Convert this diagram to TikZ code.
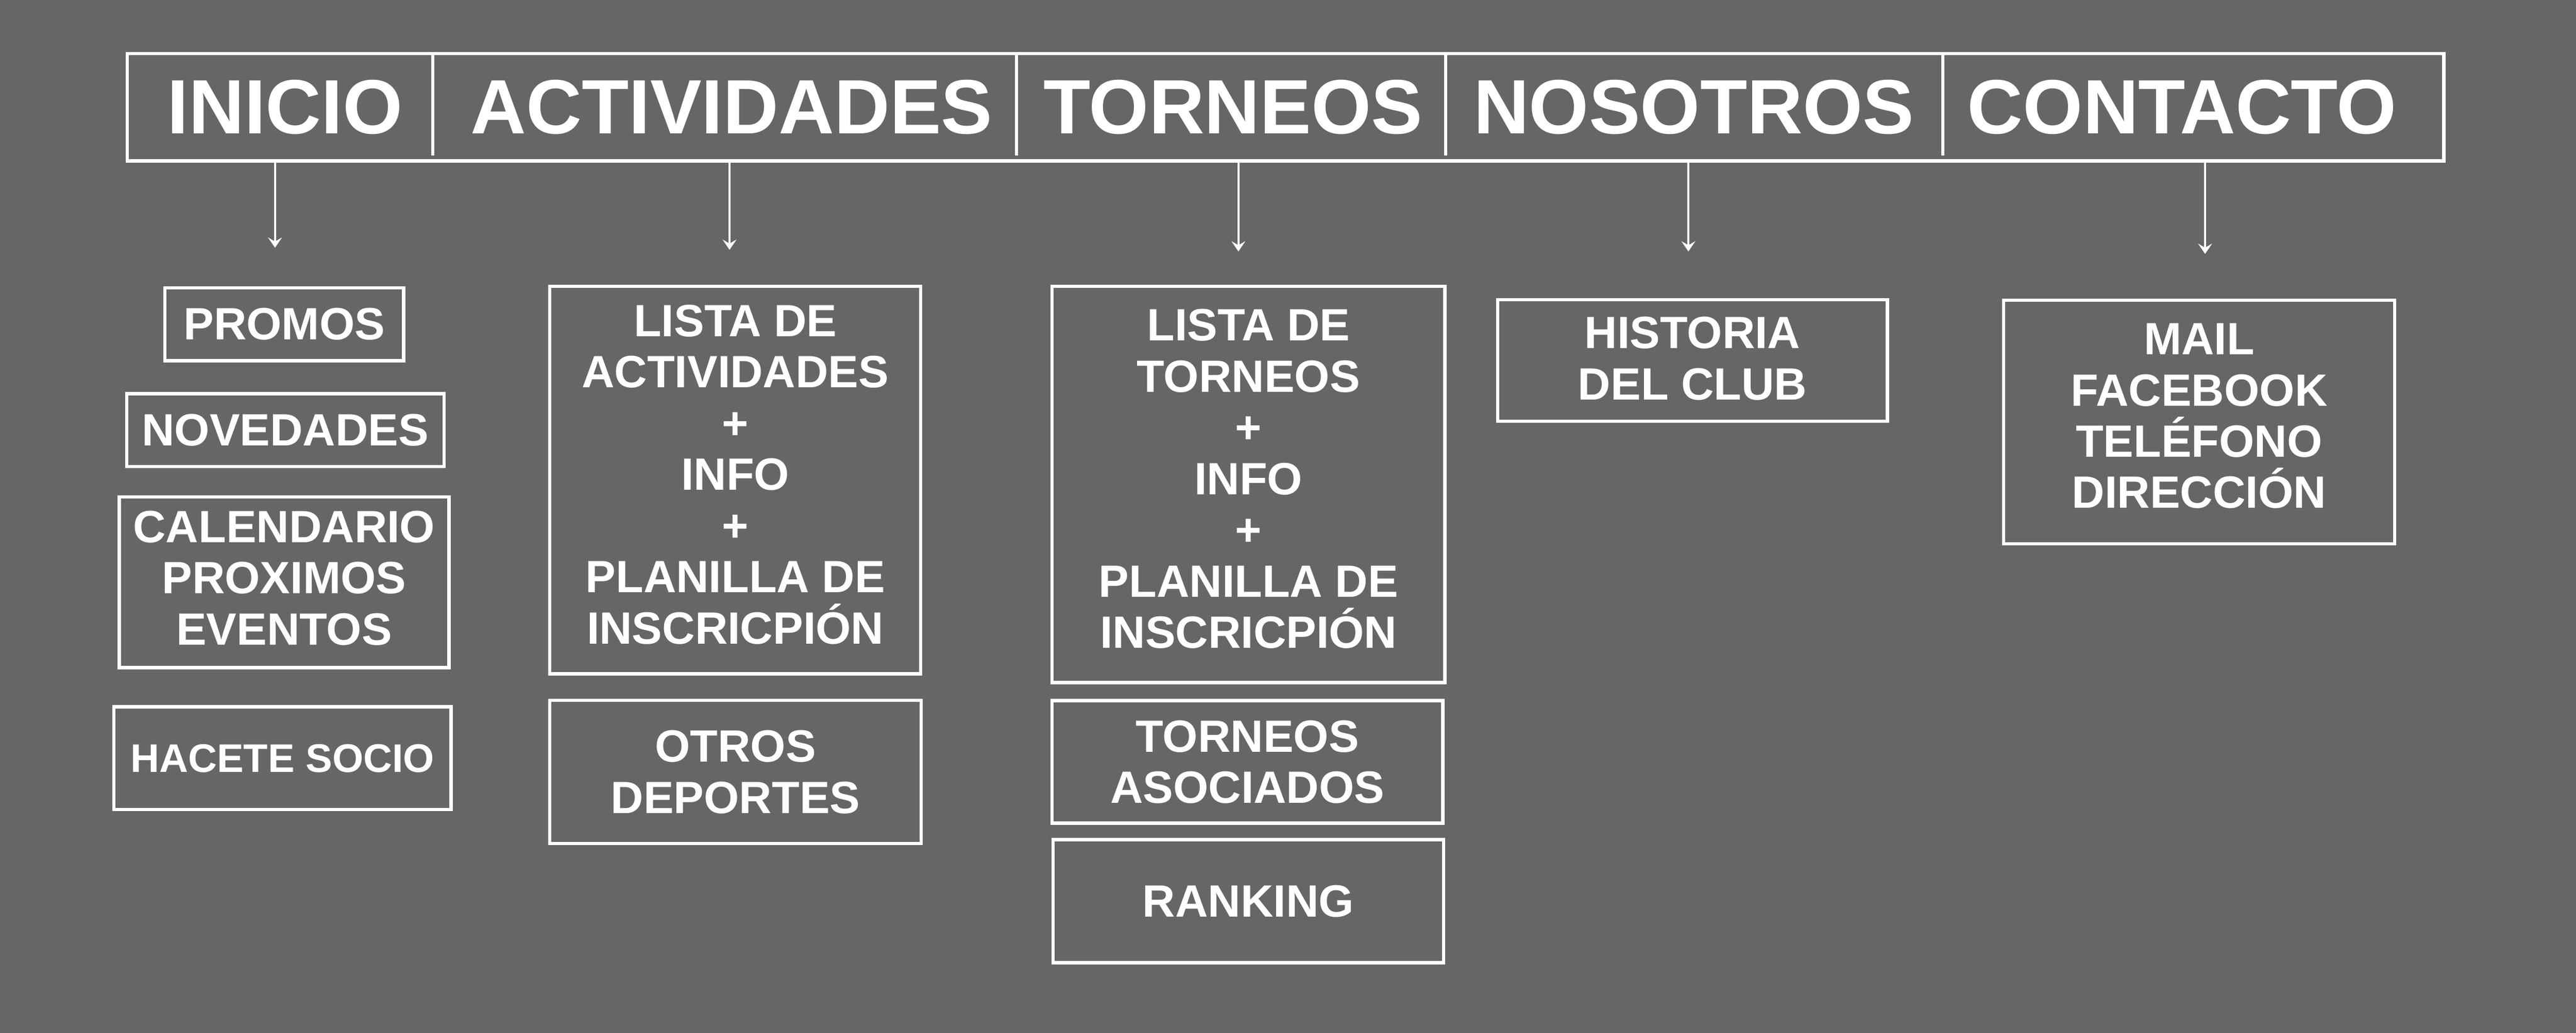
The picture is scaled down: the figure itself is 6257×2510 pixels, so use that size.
\documentclass[tikz,border=0pt]{standalone}
\usepackage{fontspec}
\setmainfont{Liberation Sans}
\usetikzlibrary{arrows.meta}
\definecolor{fondo}{HTML}{666666}

\begin{document}
\begin{tikzpicture}[x=0.1pt,y=-0.1pt,
  caja/.style={draw=white,line width=0.8pt,text=white,align=center,inner sep=0pt,
    font=\bfseries\fontsize{11}{12.45}\selectfont},
  cab/.style={text=white,inner sep=0pt,font=\bfseries\fontsize{18.7}{20}\selectfont},
  flecha/.style={draw=white,line width=0.55pt,-{Stealth[length=2.5pt,width=3.4pt,inset=1pt]}}]

\fill[fondo] (0,0) rectangle (6257,2510);

% barra de menu
\node[draw=white,line width=0.85pt,minimum width=562.7pt,minimum height=26.1pt,inner sep=0pt] (menu) at (3122.5,260.5) {};
\node[cab] (h1) at (692,260) {INICIO};
\node[cab] (h2) at (1777,260) {ACTIVIDADES};
\node[cab] (h3) at (2995,260) {TORNEOS};
\node[cab] (h4) at (4114,260) {NOSOTROS};
\node[cab] (h5) at (5300,260) {CONTACTO};

\coordinate (s1) at (1051,378);
\coordinate (s2) at (2469,378);
\coordinate (s3) at (3512,378);
\coordinate (s4) at (4719,378);
\foreach \s in {s1,s2,s3,s4}
  \draw[white,line width=0.75pt] (menu.north -| \s) -- (\s);

% flechas
\coordinate (t1) at (668,602);
\coordinate (t2) at (1772,607);
\coordinate (t3) at (3008,611);
\coordinate (t4) at (4101,611);
\coordinate (t5) at (5356,617);
\foreach \t in {t1,t2,t3,t4,t5}
  \draw[flecha] (menu.south -| \t) -- (\t);

% INICIO
\node[caja,minimum width=58pt,minimum height=17.7pt] (a1) at (690.5,788) {PROMOS};
\node[caja,minimum width=77.1pt,minimum height=17.7pt] (a2) at (693,1045) {NOVEDADES};
\node[caja,minimum width=80.1pt,minimum height=41.5pt,text depth=2.2pt] (a3) at (690,1415) {CALENDARIO\\PROXIMOS\\EVENTOS};
\node[caja,minimum width=81.9pt,minimum height=25pt,font=\bfseries\fontsize{9.7}{11}\selectfont] (a4) at (686,1842.5) {HACETE SOCIO};

% ACTIVIDADES
\node[caja,minimum width=90.1pt,minimum height=94.2pt,text depth=2.8pt] (b1) at (1786,1166.5) {LISTA DE\\ACTIVIDADES\\+\\INFO\\+\\PLANILLA DE\\INSCRICPIÓN};
\node[caja,minimum width=90.2pt,minimum height=34.8pt] (b2) at (1786.5,1876) {OTROS\\DEPORTES};

% TORNEOS
\node[caja,minimum width=95.4pt,minimum height=96.3pt,text depth=2.8pt] (c1) at (3032.5,1177) {LISTA DE\\TORNEOS\\+\\INFO\\+\\PLANILLA DE\\INSCRICPIÓN};
\node[caja,minimum width=94.9pt,minimum height=29.8pt] (c2) at (3030,1851.5) {TORNEOS\\ASOCIADOS};
\node[caja,minimum width=94.9pt,minimum height=29.9pt] (c3) at (3032,2190) {RANKING};

% NOSOTROS
\node[caja,minimum width=94.7pt,minimum height=29.5pt,text depth=1pt] (d1) at (4111,876) {HISTORIA\\DEL CLUB};

% CONTACTO
\node[caja,minimum width=95pt,minimum height=59.2pt,text depth=3pt] (e1) at (5341.5,1025.5) {MAIL\\FACEBOOK\\TELÉFONO\\DIRECCIÓN};

\end{tikzpicture}
\end{document}
